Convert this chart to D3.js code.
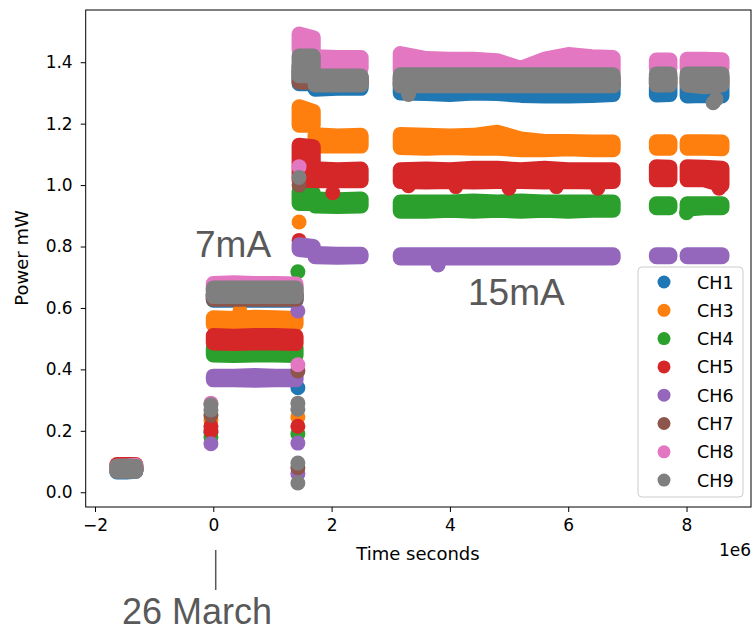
<!DOCTYPE html>
<html>
<head>
<meta charset="utf-8">
<script src="https://cdn.jsdelivr.net/npm/d3@7"></script>
<style>
  body { margin: 0; background: #fff; }
  svg { display: block; }
  text { font-family: "DejaVu Sans", sans-serif; }
  .note { font-family: "Liberation Sans", Arial, sans-serif; fill: #595959; }
</style>
</head>
<body>
<div id="chart"></div>
<script>
const width = 753;
const height = 632;

// channel names, matplotlib tab10 colours
const channels = ["CH1", "CH3", "CH4", "CH5", "CH6", "CH7", "CH8", "CH9"];
const colors = ["#1f77b4", "#ff7f0e", "#2ca02c", "#d62728", "#9467bd", "#8c564b", "#e377c2", "#7f7f7f"];

// sample times (1e6 s) and which recording block each one belongs to
const times   = [-1.63, -1.47, -1.31, 0.0, 0.35, 0.7, 1.05, 1.4, 1.45, 1.69, 1.72, 2.1, 2.5,
                 3.16, 3.6, 4.0, 4.4, 4.8, 5.2, 5.6, 6.0, 6.4, 6.76, 7.49, 7.72, 8.01, 8.3, 8.6];
const segment = [0, 0, 0, 1, 1, 1, 1, 1, 2, 2, 3, 3, 3,
                 4, 4, 4, 4, 4, 4, 4, 4, 4, 4, 5, 5, 6, 6, 6];

// lower / upper edge of each channel's scatter band (mW)
const ch1Lo = [0.066, 0.066, 0.068, 0.625, 0.625, 0.625, 0.625, 0.625, 1.33, 1.33, 1.312, 1.315, 1.315,
               1.30, 1.298, 1.295, 1.30, 1.298, 1.292, 1.29, 1.29, 1.292, 1.295, 1.293, 1.295, 1.29, 1.292, 1.29];
const ch1Hi = [0.078, 0.078, 0.078, 0.645, 0.645, 0.645, 0.645, 0.645, 1.37, 1.37, 1.34, 1.34, 1.34,
               1.33, 1.33, 1.33, 1.33, 1.33, 1.33, 1.33, 1.33, 1.33, 1.33, 1.32, 1.32, 1.32, 1.32, 1.32];
const ch3Lo = [0.072, 0.072, 0.072, 0.546, 0.548, 0.548, 0.546, 0.548, 1.195, 1.195, 1.127, 1.127, 1.127,
               1.122, 1.12, 1.122, 1.12, 1.12, 1.115, 1.115, 1.118, 1.115, 1.115, 1.12, 1.12, 1.12, 1.12, 1.118];
const ch3Hi = [0.082, 0.082, 0.082, 0.568, 0.566, 0.57, 0.568, 0.566, 1.255, 1.24, 1.164, 1.16, 1.162,
               1.165, 1.162, 1.16, 1.162, 1.172, 1.15, 1.142, 1.142, 1.14, 1.14, 1.141, 1.141, 1.141, 1.141, 1.14];
const ch4Lo = [0.07, 0.07, 0.07, 0.447, 0.445, 0.447, 0.447, 0.445, 0.94, 0.94, 0.932, 0.93, 0.932,
               0.915, 0.915, 0.918, 0.915, 0.918, 0.915, 0.918, 0.915, 0.918, 0.918, 0.926, 0.926, 0.922, 0.926, 0.926];
const ch4Hi = [0.08, 0.08, 0.08, 0.47, 0.468, 0.47, 0.468, 0.47, 0.98, 0.975, 0.955, 0.952, 0.955,
               0.945, 0.945, 0.945, 0.948, 0.945, 0.948, 0.945, 0.945, 0.945, 0.945, 0.939, 0.939, 0.939, 0.939, 0.939];
const ch5Lo = [0.075, 0.075, 0.075, 0.486, 0.484, 0.486, 0.486, 0.484, 1.015, 1.015, 1.014, 1.014, 1.014,
               1.012, 1.01, 1.012, 1.01, 1.012, 1.012, 1.01, 1.012, 1.01, 1.012, 1.017, 1.017, 1.017, 1.017, 1.0];
const ch5Hi = [0.09, 0.09, 0.09, 0.51, 0.508, 0.51, 0.51, 0.508, 1.13, 1.125, 1.053, 1.05, 1.052,
               1.05, 1.052, 1.05, 1.055, 1.055, 1.05, 1.055, 1.05, 1.05, 1.05, 1.06, 1.058, 1.06, 1.058, 1.055];
const ch6Lo = [0.07, 0.07, 0.07, 0.366, 0.366, 0.365, 0.366, 0.366, 0.79, 0.785, 0.767, 0.765, 0.767,
               0.763, 0.763, 0.763, 0.763, 0.763, 0.763, 0.763, 0.763, 0.763, 0.763, 0.767, 0.767, 0.767, 0.767, 0.767];
const ch6Hi = [0.08, 0.08, 0.08, 0.378, 0.378, 0.38, 0.378, 0.378, 0.806, 0.8, 0.777, 0.775, 0.775,
               0.773, 0.773, 0.773, 0.773, 0.773, 0.773, 0.773, 0.773, 0.773, 0.773, 0.773, 0.773, 0.773, 0.773, 0.773];
const ch7Lo = [0.07, 0.07, 0.07, 0.628, 0.628, 0.628, 0.628, 0.628, 1.335, 1.335, 1.33, 1.33, 1.33,
               1.33, 1.33, 1.33, 1.33, 1.33, 1.33, 1.33, 1.33, 1.33, 1.33, 1.33, 1.33, 1.33, 1.33, 1.33];
const ch7Hi = [0.085, 0.085, 0.085, 0.645, 0.645, 0.645, 0.645, 0.645, 1.39, 1.39, 1.35, 1.35, 1.35,
               1.35, 1.35, 1.35, 1.35, 1.35, 1.35, 1.35, 1.35, 1.35, 1.35, 1.35, 1.35, 1.35, 1.35, 1.35];
const ch8Lo = [0.072, 0.072, 0.072, 0.655, 0.655, 0.655, 0.655, 0.655, 1.44, 1.44, 1.38, 1.38, 1.38,
               1.37, 1.37, 1.37, 1.37, 1.37, 1.37, 1.37, 1.37, 1.37, 1.37, 1.38, 1.38, 1.38, 1.38, 1.38];
const ch8Hi = [0.085, 0.085, 0.088, 0.68, 0.682, 0.68, 0.68, 0.678, 1.492, 1.48, 1.418, 1.415, 1.415,
               1.428, 1.412, 1.41, 1.41, 1.405, 1.38, 1.41, 1.425, 1.418, 1.415, 1.407, 1.407, 1.41, 1.41, 1.408];
const ch9Lo = [0.068, 0.068, 0.068, 0.637, 0.637, 0.637, 0.637, 0.637, 1.356, 1.356, 1.326, 1.326, 1.326,
               1.323, 1.323, 1.323, 1.323, 1.323, 1.323, 1.323, 1.323, 1.323, 1.323, 1.326, 1.326, 1.326, 1.32, 1.326];
const ch9Hi = [0.085, 0.085, 0.085, 0.665, 0.665, 0.665, 0.665, 0.665, 1.42, 1.42, 1.355, 1.355, 1.355,
               1.359, 1.359, 1.359, 1.359, 1.359, 1.359, 1.359, 1.359, 1.359, 1.359, 1.362, 1.362, 1.362, 1.362, 1.362];

const bandLo = [ch1Lo, ch3Lo, ch4Lo, ch5Lo, ch6Lo, ch7Lo, ch8Lo, ch9Lo];
const bandHi = [ch1Hi, ch3Hi, ch4Hi, ch5Hi, ch6Hi, ch7Hi, ch8Hi, ch9Hi];

// single stray points (switching moments and outliers)
const dotCh = ["CH8", "CH9", "CH9", "CH7", "CH3", "CH5", "CH5", "CH1", "CH4", "CH6",
               "CH4", "CH6", "CH8", "CH7", "CH1", "CH9", "CH9", "CH3", "CH5", "CH4", "CH6", "CH9", "CH7", "CH6", "CH9",
               "CH3", "CH5", "CH8", "CH9", "CH7", "CH3",
               "CH5", "CH5", "CH5", "CH5", "CH5", "CH5", "CH5", "CH6", "CH9", "CH9", "CH9", "CH4"];
const dotT  = [-0.04, -0.04, -0.04, -0.04, -0.04, -0.04, -0.04, -0.04, -0.04, -0.04,
               1.43, 1.43, 1.43, 1.43, 1.43, 1.43, 1.43, 1.43, 1.43, 1.43, 1.43, 1.43, 1.43, 1.43, 1.43,
               1.45, 1.45, 1.45, 1.45, 1.45, 0.45,
               2.02, 3.3, 4.1, 5.0, 5.8, 6.5, 8.55, 3.8, 3.3, 8.45, 8.5, 8.0];
const dotV  = [0.29, 0.285, 0.268, 0.25, 0.235, 0.215, 0.2, 0.195, 0.18, 0.158,
               0.718, 0.59, 0.415, 0.395, 0.34, 0.29, 0.27, 0.245, 0.215, 0.19, 0.16, 0.095, 0.08, 0.06, 0.03,
               0.88, 0.82, 1.06, 1.025, 1.0, 0.59,
               0.975, 0.998, 0.995, 0.99, 0.995, 0.99, 0.99, 0.74, 1.295, 1.268, 1.28, 0.91];

const yTicks = [0, 0.2, 0.4, 0.6, 0.8, 1.0, 1.2, 1.4];
const xTicks = [-2, 0, 2, 4, 6, 8];

const r = 7.5;

const svg = d3.select('#chart')
              .append('svg')
              .attr('width', width)
              .attr('height', height);
svg.append('rect').attr('width', width).attr('height', height).attr('fill', '#fff');

const x = d3.scaleLinear().domain([-2.157, 9.09]).range([85.7, 751]);
const y = d3.scaleLinear().domain([-0.048, 1.57]).range([507, 10]);

const area = d3.area()
               .x(d => x(d.t))
               .y0(d => y(d.lo))
               .y1(d => y(d.hi));

const plot = svg.append('g');

channels.forEach((ch, c) => {
    let pts = times.map((t, i) => ({ t: t, lo: bandLo[c][i], hi: bandHi[c][i], seg: segment[i] }));
    let groups = d3.groups(pts, d => d.seg).map(g => g[1]);
    plot.append('g')
        .selectAll('path')
        .data(groups)
        .enter()
        .append('path')
        .attr('d', d => area(d))
        .attr('fill', colors[c])
        .attr('stroke', colors[c])
        .attr('stroke-width', r * 2)
        .attr('stroke-linejoin', 'round')
        .attr('stroke-linecap', 'round');
    let dots = dotCh.map((d, i) => ({ ch: d, t: dotT[i], v: dotV[i] })).filter(d => d.ch === ch);
    plot.append('g')
        .selectAll('circle')
        .data(dots)
        .enter()
        .append('circle')
        .attr('cx', d => x(d.t))
        .attr('cy', d => y(d.v))
        .attr('r', r)
        .attr('fill', colors[c]);
});

// axes
const xAxis = d3.axisBottom(x).tickValues(xTicks).tickFormat(d3.format('d')).tickSize(5).tickSizeOuter(0).tickPadding(7);
const yAxis = d3.axisLeft(y).tickValues(yTicks).tickFormat(d3.format('.1f')).tickSize(5).tickSizeOuter(0).tickPadding(8);

const gx = svg.append('g').attr('transform', 'translate(0,507)').call(xAxis);
const gy = svg.append('g').attr('transform', 'translate(85.7,0)').call(yAxis);
[gx, gy].forEach(g => {
    g.select('.domain').remove();
    g.selectAll('text').attr('font-size', 17).attr('font-family', 'DejaVu Sans').attr('fill', '#000');
    g.selectAll('line').attr('stroke', '#000');
});

svg.append('rect')
   .attr('x', 85.7).attr('y', 10)
   .attr('width', 751 - 85.7).attr('height', 497)
   .attr('fill', 'none').attr('stroke', '#000').attr('stroke-width', 1);

svg.append('text')
   .attr('x', 418).attr('y', 560)
   .attr('text-anchor', 'middle')
   .attr('font-size', 18)
   .text('Time seconds');
svg.append('text')
   .attr('x', 751).attr('y', 556)
   .attr('text-anchor', 'end')
   .attr('font-size', 17)
   .text('1e6');
svg.append('text')
   .attr('transform', 'translate(28,258) rotate(-90)')
   .attr('text-anchor', 'middle')
   .attr('font-size', 18)
   .text('Power mW');

// legend
const lg = svg.append('g');
lg.append('rect')
  .attr('x', 638).attr('y', 267)
  .attr('width', 105).attr('height', 230)
  .attr('rx', 4)
  .attr('fill', '#fff').attr('fill-opacity', 0.8)
  .attr('stroke', '#ccc');
const rows = lg.selectAll('g.row')
               .data(channels)
               .enter()
               .append('g')
               .attr('class', 'row')
               .attr('transform', (d, i) => 'translate(0,' + (282 + i * 28.3) + ')');
rows.append('circle').attr('cx', 664).attr('cy', 0).attr('r', 6.5).attr('fill', (d, i) => colors[i]);
rows.append('text').attr('x', 697).attr('y', 6.5).attr('font-size', 17.5).text(d => d);

// slide annotations
svg.append('text').attr('class', 'note').attr('x', 195).attr('y', 257).attr('font-size', 37).text('7mA');
svg.append('text').attr('class', 'note').attr('x', 468).attr('y', 305).attr('font-size', 37).text('15mA');
svg.append('text').attr('class', 'note').attr('x', 122).attr('y', 624).attr('font-size', 36).text('26 March');
svg.append('line')
   .attr('x1', 215.7).attr('x2', 215.7)
   .attr('y1', 550).attr('y2', 590)
   .attr('stroke', '#595959').attr('stroke-width', 1.5);
</script>
</body>
</html>
